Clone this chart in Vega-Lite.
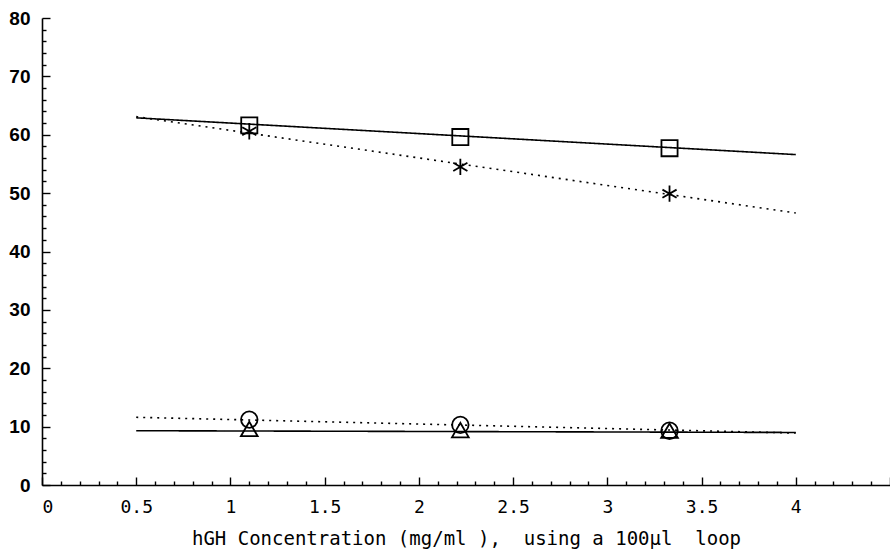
{
  "$schema": "https://vega.github.io/schema/vega-lite/v6.json",
  "width": 848,
  "height": 467,
  "autosize": {"type": "none"},
  "padding": {"left": 42, "top": 18, "right": 0, "bottom": 69},
  "background": "white",
  "config": {"view": {"stroke": null}},
  "datasets": {
    "points": [
      {"series": "square", "x": 1.1, "y": 61.6},
      {"series": "square", "x": 2.22, "y": 59.6},
      {"series": "square", "x": 3.33, "y": 57.7},
      {"series": "star", "x": 1.1, "y": 60.6},
      {"series": "star", "x": 2.22, "y": 54.5},
      {"series": "star", "x": 3.33, "y": 49.9},
      {"series": "circle", "x": 1.1, "y": 11.2},
      {"series": "circle", "x": 2.22, "y": 10.3},
      {"series": "circle", "x": 3.33, "y": 9.3},
      {"series": "triangle", "x": 1.1, "y": 9.6},
      {"series": "triangle", "x": 2.22, "y": 9.4},
      {"series": "triangle", "x": 3.33, "y": 9.3}
    ],
    "lines": [
      {"series": "square", "style": "solid", "x": 0.5, "y": 62.9},
      {"series": "square", "style": "solid", "x": 4, "y": 56.6},
      {"series": "star", "style": "dotted", "x": 0.5, "y": 63.1},
      {"series": "star", "style": "dotted", "x": 4, "y": 46.6},
      {"series": "circle", "style": "dotted", "x": 0.5, "y": 11.6},
      {"series": "circle", "style": "dotted", "x": 4, "y": 8.9},
      {"series": "triangle", "style": "solid", "x": 0.5, "y": 9.3},
      {"series": "triangle", "style": "solid", "x": 4, "y": 9.0}
    ]
  },
  "layer": [
    {
      "data": {"name": "lines"},
      "mark": {"type": "line", "color": "black", "strokeWidth": 1.6},
      "encoding": {
        "x": {
          "field": "x", "type": "quantitative",
          "scale": {"domain": [0, 4.5], "nice": false, "zero": true},
          "axis": {
            "title": "hGH Concentration (mg/ml\u00a0),\u00a0\u00a0using a 100µl\u00a0\u00a0loop",
            "titleFont": "DejaVu Sans Mono",
            "titleFontSize": 19,
            "titleFontWeight": "normal",
            "titleColor": "black",
            "titlePadding": 9,
            "tickCount": 1000,
            "values": [0,0.1,0.2,0.3,0.4,0.5,0.6,0.7,0.8,0.9,1,1.1,1.2,1.3,1.4,1.5,1.6,1.7,1.8,1.9,2,2.1,2.2,2.3,2.4,2.5,2.6,2.7,2.8,2.9,3,3.1,3.2,3.3,3.4,3.5,3.6,3.7,3.8,3.9,4,4.1,4.2,4.3,4.4,4.5],
            "labelExpr": "(datum.value < 4.2 && abs(datum.value*2 - round(datum.value*2)) < 0.001) ? format(datum.value, '~g') : ''",
            "labelFont": "DejaVu Sans Mono",
            "labelFontSize": 18,
            "labelColor": "black",
            "labelPadding": 21,
            "labelOverlap": false,
            "domainColor": "black",
            "domainWidth": 1.6,
            "tickColor": "black",
            "tickWidth": 1.4,
            "tickSize": {"condition": {"test": "abs(datum.value*2 - round(datum.value*2)) < 0.001", "value": -8}, "value": -4},
            "grid": false
          }
        },
        "y": {
          "field": "y", "type": "quantitative",
          "scale": {"domain": [0, 80], "nice": false},
          "axis": {
            "title": null,
            "tickCount": 1000,
            "values": [0,2,4,6,8,10,12,14,16,18,20,22,24,26,28,30,32,34,36,38,40,42,44,46,48,50,52,54,56,58,60,62,64,66,68,70,72,74,76,78,80],
            "labelExpr": "datum.value % 10 === 0 ? format(datum.value, 'd') : ''",
            "labelFont": "Liberation Sans",
            "labelFontSize": 19,
            "labelFontWeight": "bold",
            "labelColor": "black",
            "labelPadding": 20,
            "labelOverlap": false,
            "domainColor": "black",
            "domainWidth": 1.6,
            "tickColor": "black",
            "tickWidth": 1.4,
            "tickSize": {"condition": {"test": "datum.value % 10 === 0", "value": -8}, "value": -4},
            "grid": false
          }
        },
        "detail": {"field": "series", "type": "nominal"},
        "strokeDash": {
          "field": "style", "type": "nominal",
          "scale": {"domain": ["solid", "dotted"], "range": [[1, 0], [2, 5]]},
          "legend": null
        }
      }
    },
    {
      "data": {"name": "points"},
      "mark": {"type": "point", "filled": false, "color": "black", "strokeWidth": 1.8, "opacity": 1},
      "encoding": {
        "x": {"field": "x", "type": "quantitative"},
        "y": {"field": "y", "type": "quantitative"},
        "shape": {
          "field": "series", "type": "nominal",
          "scale": {
            "domain": ["square", "star", "circle", "triangle"],
            "range": ["square", "M0,-1L0,1M-0.866,-0.5L0.866,0.5M-0.866,0.5L0.866,-0.5", "circle", "triangle-up"]
          },
          "legend": null
        },
        "size": {
          "field": "series", "type": "nominal",
          "scale": {"domain": ["square", "star", "circle", "triangle"], "range": [260, 280, 240, 330]},
          "legend": null
        }
      }
    }
  ]
}
